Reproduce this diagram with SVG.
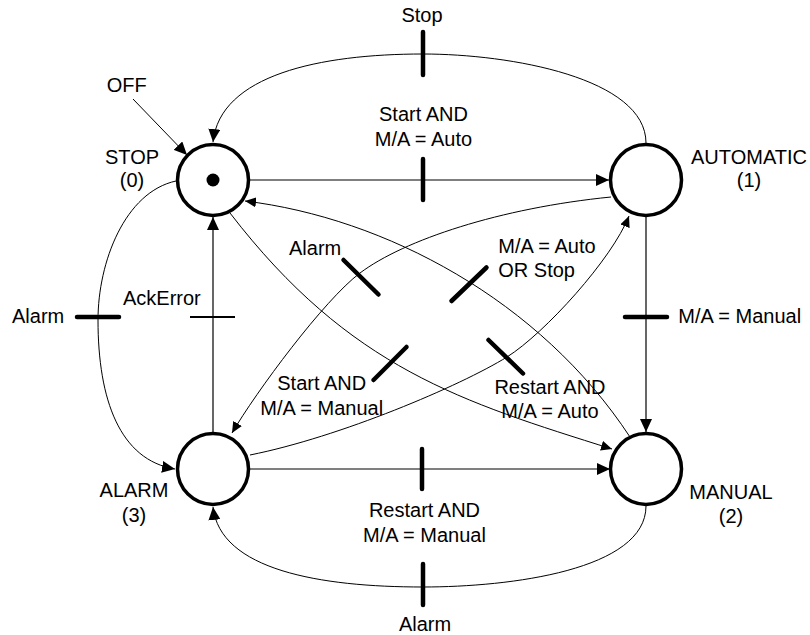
<svg xmlns="http://www.w3.org/2000/svg" width="810" height="635" viewBox="0 0 810 635">
  <style>
    text { font-family: "Liberation Sans", Arial, sans-serif; font-size: 20px; fill: #000; }
    .mid { text-anchor: middle; }
    .state { fill: #fff; stroke: #000; stroke-width: 3.5; }
    .edge { fill: none; stroke: #000; stroke-width: 1.2; }
    .thin { fill: none; stroke: #000; stroke-width: 1; }
    .bar { stroke: #000; stroke-width: 4.5; stroke-linecap: round; }
    .bar-thin { stroke: #000; stroke-width: 2; }
  </style>
  <defs>
    <marker id="arrow" viewBox="0 0 13 12" refX="13" refY="6" markerWidth="13" markerHeight="12" markerUnits="userSpaceOnUse" orient="auto">
      <path d="M0,0 L13,6 L0,12 z" fill="#000"/>
    </marker>
    <marker id="arrow-sm" viewBox="0 0 11 10" refX="11" refY="5" markerWidth="11" markerHeight="10" markerUnits="userSpaceOnUse" orient="auto">
      <path d="M0,0 L11,5 L0,10 z" fill="#000"/>
    </marker>
  </defs>

  <!-- transitions -->
  <g id="connectors">
    <!-- OFF: initial arrow into STOP -->
    <line class="thin" x1="133" y1="99" x2="187" y2="155" marker-end="url(#arrow)"/>

    <!-- STOP -> AUTOMATIC : Start AND M/A = Auto -->
    <line class="edge" x1="250" y1="180" x2="609" y2="180" marker-end="url(#arrow)"/>
    <line class="bar" x1="423" y1="159" x2="423" y2="200"/>

    <!-- AUTOMATIC -> STOP : Stop -->
    <path class="thin" d="M646,143 C646,78 510,54 423,54 C320,54 220,75 213,142" marker-end="url(#arrow)"/>
    <line class="bar" x1="423" y1="32" x2="423" y2="75"/>

    <!-- STOP -> ALARM : Alarm -->
    <path class="thin" d="M176,181 C125,192 98,262 98,320 C98,400 120,460 175,469" marker-end="url(#arrow)"/>
    <line class="bar" x1="77" y1="317" x2="119" y2="317"/>

    <!-- ALARM -> STOP : AckError -->
    <line class="edge" x1="213" y1="432" x2="213" y2="217" marker-end="url(#arrow)"/>
    <line class="bar-thin" x1="190" y1="317" x2="235" y2="317"/>

    <!-- AUTOMATIC -> MANUAL : M/A = Manual -->
    <line class="edge" x1="646" y1="217" x2="646" y2="432" marker-end="url(#arrow)"/>
    <line class="bar" x1="625" y1="317" x2="667" y2="317"/>

    <!-- ALARM -> MANUAL : Restart AND M/A = Manual -->
    <line class="edge" x1="250" y1="469" x2="610" y2="469" marker-end="url(#arrow)"/>
    <line class="bar" x1="422" y1="449" x2="422" y2="489"/>

    <!-- MANUAL -> ALARM : Alarm -->
    <path class="thin" d="M646,506 C646,570 510,587 423,587 C320,587 220,570 213,507" marker-end="url(#arrow)"/>
    <line class="bar" x1="423" y1="564" x2="423" y2="605"/>

    <!-- AUTOMATIC -> ALARM : Alarm -->
    <path class="thin" d="M611,197 C500,208 404,240 360,273 C324,300 256,392 232,433" marker-end="url(#arrow-sm)"/>
    <line class="bar" x1="343.5" y1="260" x2="378.5" y2="294.5"/>

    <!-- MANUAL -> STOP : M/A = Auto OR Stop -->
    <path class="thin" d="M630,437 C540,300 385,218 245,201" marker-end="url(#arrow-sm)"/>
    <line class="bar" x1="451.5" y1="301" x2="486.5" y2="267.5"/>

    <!-- STOP -> MANUAL : Start AND M/A = Manual -->
    <path class="thin" d="M230,213 C350,369 463,402 612,449" marker-end="url(#arrow-sm)"/>
    <line class="bar" x1="373.5" y1="380" x2="406.5" y2="347"/>

    <!-- ALARM -> AUTOMATIC : Restart AND M/A = Auto -->
    <path class="thin" d="M250,455 C340,437 460,386 507,357 C545,333 612,259 629,216" marker-end="url(#arrow-sm)"/>
    <line class="bar" x1="488.5" y1="340" x2="523" y2="373.5"/>

    <!-- transition labels -->
    <text x="126.7" y="92" class="mid">OFF</text>
    <text x="422" y="22" class="mid">Stop</text>
    <text x="423.5" y="121" class="mid">Start AND</text>
    <text x="423.5" y="145.5" class="mid">M/A = Auto</text>
    <text x="12" y="323">Alarm</text>
    <text x="123" y="305">AckError</text>
    <text x="289" y="255">Alarm</text>
    <text x="498.3" y="253">M/A = Auto</text>
    <text x="498.3" y="277">OR Stop</text>
    <text x="678.3" y="323">M/A = Manual</text>
    <text x="321.7" y="390" class="mid">Start AND</text>
    <text x="321.7" y="414.5" class="mid">M/A = Manual</text>
    <text x="550" y="393.5" class="mid">Restart AND</text>
    <text x="550" y="418" class="mid">M/A = Auto</text>
    <text x="424.5" y="517" class="mid">Restart AND</text>
    <text x="424.5" y="541.5" class="mid">M/A = Manual</text>
    <text x="425" y="630.5" class="mid">Alarm</text>
  </g>

  <!-- states -->
  <g id="state-stop">
    <circle class="state" cx="213" cy="180" r="35.5"/>
    <circle cx="213" cy="180" r="6.5" fill="#000"/>
    <text x="132" y="163.5" class="mid">STOP</text>
    <text x="132" y="187" class="mid">(0)</text>
  </g>
  <g id="state-automatic">
    <circle class="state" cx="646" cy="180" r="35.5"/>
    <text x="749" y="163.5" class="mid">AUTOMATIC</text>
    <text x="749" y="187" class="mid">(1)</text>
  </g>
  <g id="state-manual">
    <circle class="state" cx="646" cy="469" r="35.5"/>
    <text x="731" y="498.5" class="mid">MANUAL</text>
    <text x="731" y="523" class="mid">(2)</text>
  </g>
  <g id="state-alarm">
    <circle class="state" cx="213" cy="469" r="35.5"/>
    <text x="134" y="497" class="mid">ALARM</text>
    <text x="134" y="521.5" class="mid">(3)</text>
  </g>
</svg>
